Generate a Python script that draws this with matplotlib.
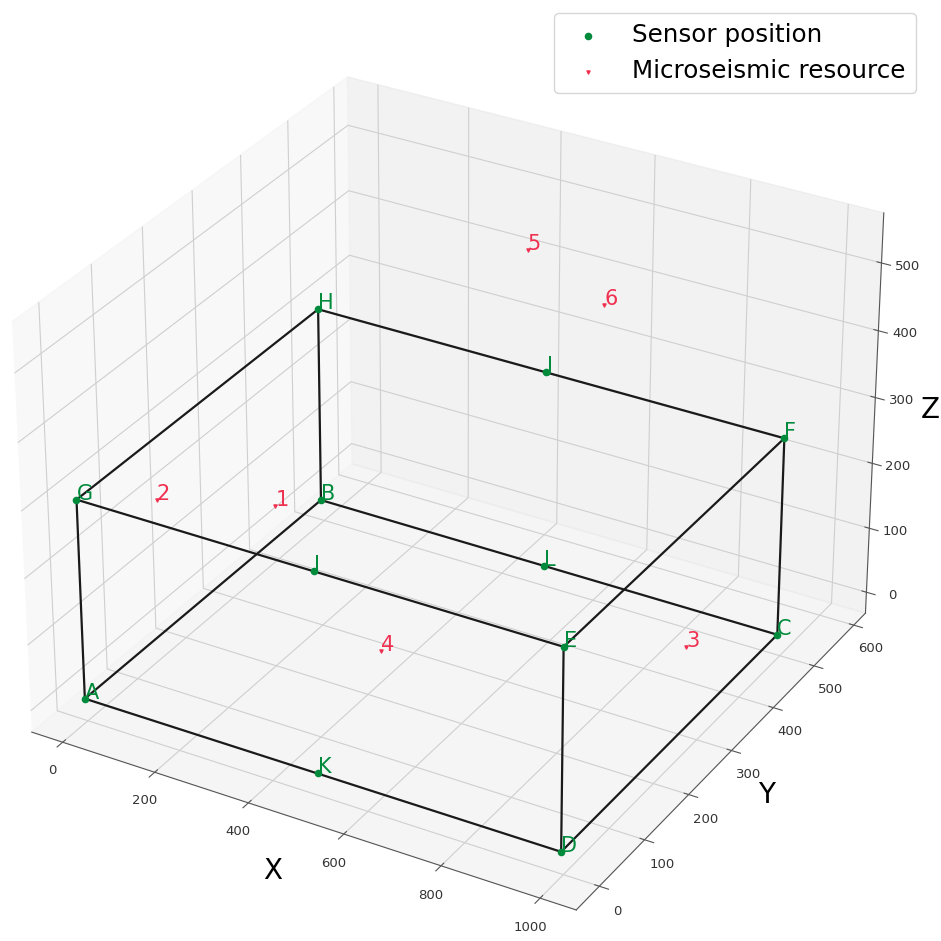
import numpy as np
import matplotlib
matplotlib.use("Agg")
import matplotlib.pyplot as plt

# sensor positions
sensor_names = ["A", "B", "C", "D", "E", "F", "G", "H", "I", "J", "K", "L"]
sensor_x = [-5, -5, 995, 995, 995, 995, -5, -5, 495, 495, 495, 495]
sensor_y = [0, 498, 498, 0, 0, 498, 0, 498, 0, 498, 0, 498]
sensor_z = [0, 0, 0, 0, 300, 300, 300, 300, 300, 300, 0, 0]

# microseismic sources
source_names = ["1", "2", "3", "4", "5", "6"]
source_x = [59, 26, 930, 499, 485, 704]
source_y = [338, 127, 351, 131, 464, 400]
source_z = [100, 230, 60, 100, 500, 495]

# box edges, as pairs of sensor names
edges = ["AD", "DC", "CB", "BA", "GE", "EF", "FH", "HG", "AG", "BH", "CF", "DE"]

fig = plt.figure(figsize=(9.41, 9.41), dpi=100)
ax = fig.add_axes([-0.044, -0.032, 1.03, 1.03], projection="3d")

ax.scatter(sensor_x, sensor_y, sensor_z, c="#008a3c", marker="o", s=20, depthshade=False, label="Sensor position")
ax.scatter(source_x, source_y, source_z, c="#f03050", marker="v", s=5, depthshade=False, label="Microseismic resource")

for e in edges:
    i = sensor_names.index(e[0])
    j = sensor_names.index(e[1])
    ax.plot([sensor_x[i], sensor_x[j]], [sensor_y[i], sensor_y[j]], [sensor_z[i], sensor_z[j]], color="#1a1a1a", linewidth=1.6)

for n, x, y, z in zip(sensor_names, sensor_x, sensor_y, sensor_z):
    ax.text(x, y, z, n, color="#008a3c", fontsize=15)
for n, x, y, z in zip(source_names, source_x, source_y, source_z):
    ax.text(x, y, z, n, color="#f03050", fontsize=15)

ax.set_xlim(-68, 1072)
ax.set_ylim(-50, 630)
ax.set_zlim(-33, 573)
ax.set_xticks([0, 200, 400, 600, 800, 1000])
ax.set_yticks([0, 100, 200, 300, 400, 500, 600])
ax.set_zticks([0, 100, 200, 300, 400, 500])
ax.set_xlabel("X", fontsize=20, labelpad=6)
ax.set_ylabel("Y", fontsize=20, labelpad=5)
ax.set_zlabel("Z", fontsize=20, labelpad=4)
ax.tick_params(labelsize=9.5, labelcolor="#333333", color="#555555")
for axis in (ax.xaxis, ax.yaxis, ax.zaxis):
    axis._axinfo["grid"]["color"] = "#cfcfcf"
    axis.line.set_color("#555555")

fig.legend(loc="upper right", bbox_to_anchor=(0.973, 0.986), fontsize=17.7, borderaxespad=0)

fig.savefig("out.png", dpi=100)
